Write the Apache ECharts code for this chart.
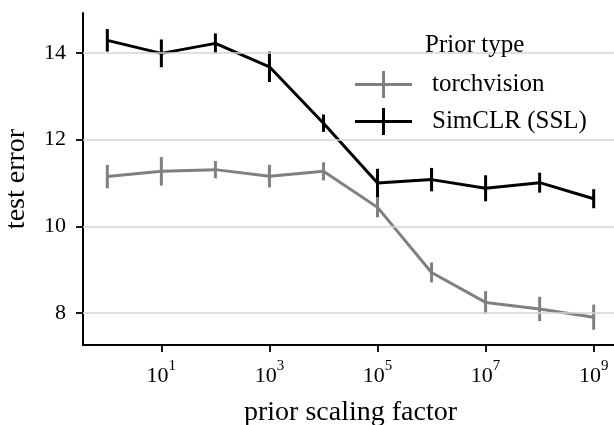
<!DOCTYPE html>
<html>
<head>
<meta charset="utf-8">
<script src="https://cdn.jsdelivr.net/npm/echarts@6/dist/echarts.min.js"></script>
<style>
  html, body { margin: 0; padding: 0; background: #fff; }
  #chart { width: 614px; height: 425px; }
</style>
</head>
<body>
<div id="chart"></div>
<script>
// prior scaling factors (x), plotted on a log10 axis
const scalingFactors = [1, 1e1, 1e2, 1e3, 1e4, 1e5, 1e6, 1e7, 1e8, 1e9];
const xTickExponents = [1, 3, 5, 7, 9];
const yTicks = [8, 10, 12, 14];

// test error, mean and half-width of the error bar
const torchvisionMean = [11.15, 11.27, 11.31, 11.16, 11.27, 10.44, 8.94, 8.25, 8.10, 7.91];
const torchvisionErr = [0.27, 0.33, 0.20, 0.26, 0.21, 0.23, 0.23, 0.26, 0.28, 0.29];
const simclrMean = [14.29, 13.99, 14.22, 13.68, 12.38, 11.00, 11.08, 10.88, 11.01, 10.64];
const simclrErr = [0.26, 0.32, 0.23, 0.35, 0.20, 0.33, 0.27, 0.30, 0.23, 0.22];

const FONT = 'Liberation Serif';
const GRAY = '#808080';
const BLACK = '#000000';

const logX = scalingFactors.map(f => Math.log10(f));
const lineData = (means) => logX.map((x, i) => [x, means[i]]);
const errData = (means, errs) => logX.map((x, i) => [x, means[i] - errs[i], means[i] + errs[i]]);

const errorBars = (name, means, errs, color, z) => ({
    name: name,
    type: 'custom',
    z: z,
    silent: true,
    data: errData(means, errs),
    renderItem: (params, api) => {
        const lo = api.coord([api.value(0), api.value(1)]);
        const hi = api.coord([api.value(0), api.value(2)]);
        return {
            type: 'line',
            shape: { x1: lo[0], y1: lo[1], x2: hi[0], y2: hi[1] },
            style: { stroke: color, lineWidth: 3 }
        };
    }
});

// legend icon: horizontal line crossed by an error bar
const legendIcon = 'path://M0,12H57V15H0Z M27,0H30V27H27Z';

const chart = echarts.init(document.getElementById('chart'), null, { renderer: 'canvas' });

chart.setOption({
    backgroundColor: '#fff',
    animation: false,
    title: {
        text: 'Prior type',
        left: 425,
        top: 33,
        padding: 0,
        textStyle: { fontFamily: FONT, fontSize: 25, fontWeight: 'normal', color: '#000' }
    },
    legend: {
        data: ['torchvision', 'SimCLR (SSL)'],
        orient: 'vertical',
        left: 355,
        top: 71,
        padding: 0,
        itemWidth: 57,
        itemHeight: 27,
        itemGap: 10,
        icon: legendIcon,
        formatter: name => '{t|' + name + '}',
        textStyle: {
            fontFamily: FONT,
            fontSize: 25,
            color: '#000',
            rich: { t: { fontFamily: FONT, fontSize: 25, color: '#000', padding: [0, 0, 0, 15] } }
        }
    },
    grid: { left: 83, top: 13, width: 535, height: 332, containLabel: false, outerBoundsMode: 'none' },
    xAxis: {
        type: 'value',
        min: -0.45,
        max: 9.45,
        name: 'prior scaling factor',
        nameLocation: 'middle',
        nameGap: 54,
        nameTextStyle: { fontFamily: FONT, fontSize: 28, color: '#000' },
        axisLine: { show: true, onZero: false, lineStyle: { color: '#000', width: 2 } },
        axisTick: { show: true, length: 7, lineStyle: { color: '#000', width: 1.8 }, customValues: xTickExponents },
        splitLine: { show: false },
        axisLabel: {
            customValues: xTickExponents,
            margin: 14,
            formatter: v => '{b|10}{s|' + v + '}',
            rich: {
                b: { fontFamily: FONT, fontSize: 22, color: '#000', lineHeight: 28, verticalAlign: 'bottom' },
                s: { fontFamily: FONT, fontSize: 15, color: '#000', lineHeight: 28, verticalAlign: 'top' }
            }
        }
    },
    yAxis: {
        type: 'value',
        min: 7.268,
        max: 14.92,
        name: 'test error',
        nameLocation: 'middle',
        nameGap: 52,
        nameTextStyle: { fontFamily: FONT, fontSize: 28, color: '#000' },
        axisLine: { show: true, onZero: false, lineStyle: { color: '#000', width: 2 } },
        axisTick: { show: true, length: 7, lineStyle: { color: '#000', width: 1.8 }, customValues: yTicks },
        splitLine: { show: false },
        axisLabel: {
            customValues: yTicks,
            margin: 17,
            fontFamily: FONT,
            fontSize: 22,
            color: '#000'
        }
    },
    series: [
        {
            // horizontal grid lines at the y ticks
            name: 'grid',
            type: 'line',
            z: 0,
            silent: true,
            data: [],
            markLine: {
                silent: true,
                symbol: 'none',
                animation: false,
                label: { show: false },
                lineStyle: { color: '#d4d4d4', width: 1.5, type: 'solid' },
                data: yTicks.map(v => ({ yAxis: v }))
            }
        },
        {
            name: 'torchvision',
            type: 'line',
            z: 3,
            data: lineData(torchvisionMean),
            showSymbol: false,
            symbol: 'none',
            color: GRAY,
            lineStyle: { color: GRAY, width: 3 },
            itemStyle: { color: GRAY }
        },
        errorBars('torchvision', torchvisionMean, torchvisionErr, GRAY, 3),
        {
            name: 'SimCLR (SSL)',
            type: 'line',
            z: 4,
            data: lineData(simclrMean),
            showSymbol: false,
            symbol: 'none',
            color: BLACK,
            lineStyle: { color: BLACK, width: 3 },
            itemStyle: { color: BLACK }
        },
        errorBars('SimCLR (SSL)', simclrMean, simclrErr, BLACK, 4)
    ]
});
</script>
</body>
</html>
